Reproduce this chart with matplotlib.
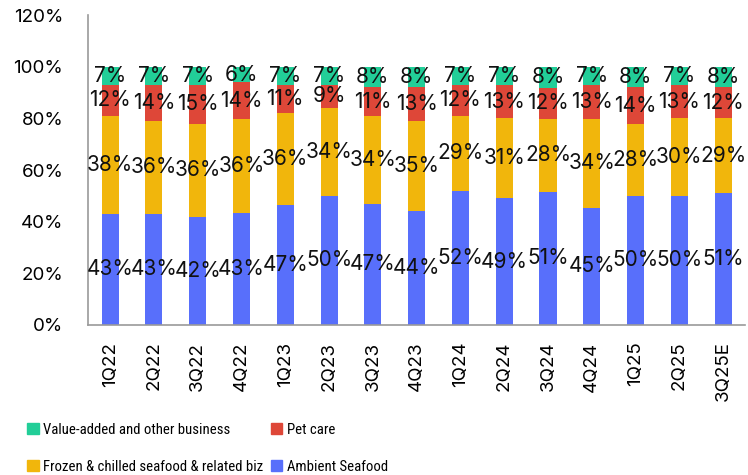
import numpy as np
import matplotlib
matplotlib.use("Agg")
import matplotlib.pyplot as plt
from matplotlib.patches import Patch
from matplotlib import font_manager

quarters = ["1Q22", "2Q22", "3Q22", "4Q22", "1Q23", "2Q23", "3Q23", "4Q23",
            "1Q24", "2Q24", "3Q24", "4Q24", "1Q25", "2Q25", "3Q25E"]
ambient = [43, 43, 42, 43, 47, 50, 47, 44, 52, 49, 51, 45, 50, 50, 51]
frozen = [38, 36, 36, 36, 36, 34, 34, 35, 29, 31, 28, 34, 28, 30, 29]
pet_care = [12, 14, 15, 14, 11, 9, 11, 13, 12, 13, 12, 13, 14, 13, 12]
value_added = [7, 7, 7, 6, 7, 7, 8, 8, 7, 7, 8, 7, 8, 7, 8]

series = [
    ("Ambient Seafood", ambient, "#586FFB"),
    ("Frozen & chilled seafood & related biz", frozen, "#F1B60C"),
    ("Pet care", pet_care, "#DE4738"),
    ("Value-added and other business", value_added, "#22CE98"),
]

plt.rcParams['font.family'] = ['Inter', 'DejaVu Sans']

# legend in reference uses a condensed face, take one if it is installed
installed = {f.name for f in font_manager.fontManager.ttflist}
narrow = [n for n in ["Liberation Sans Narrow", "DejaVu Sans Condensed",
                      "Roboto Condensed", "Open Sans Condensed"] if n in installed]
legend_family = narrow[:1] + ["Roboto", "DejaVu Sans"]
legend_size = 10.6 if narrow else 9.5

fig = plt.figure(figsize=(7.48, 4.75), dpi=100)
ax = fig.add_axes([0.118, 0.316, 0.878, 0.652])

x = np.arange(len(quarters))
totals = np.sum([s[1] for s in series], axis=0).astype(float)
bottom = np.zeros(len(quarters))
for name, vals, color in series:
    share = np.array(vals) / totals * 100
    ax.bar(x, share, width=0.39, bottom=bottom, color=color, label=name)
    for xi, b, h, v in zip(x, bottom, share, vals):
        ax.text(xi, b + h / 2, f"{v}%", ha="center", va="center",
                fontsize=15, color="#111111")
    bottom += share

ax.set_xlim(-0.5, len(quarters) - 0.5)
ax.set_ylim(0, 120)
ax.set_yticks(range(0, 121, 20))
ax.set_yticklabels([f"{v}%" for v in range(0, 121, 20)], fontsize=13.5)
ax.set_xticks(x)
ax.set_xticklabels(quarters, rotation=90, fontsize=13.5)
ax.tick_params(axis="y", length=0, pad=18)
ax.tick_params(axis="x", length=0, pad=12)

for side in ["top", "right"]:
    ax.spines[side].set_visible(False)
for side in ["left", "bottom"]:
    ax.spines[side].set_color("#9a9a9a")
    ax.spines[side].set_linewidth(1.2)

order = [3, 1, 2, 0]
handles = [Patch(color=series[i][2], label=series[i][0]) for i in order]
leg = fig.legend(handles=handles, ncol=2, loc="upper left",
                 bbox_to_anchor=(0.019, 0.138), frameon=False,
                 prop={"family": legend_family, "size": legend_size},
                 handlelength=0.75, handleheight=0.75, handletextpad=0.3,
                 columnspacing=0.55, labelspacing=1.55)

fig.savefig("out.png", dpi=100)
